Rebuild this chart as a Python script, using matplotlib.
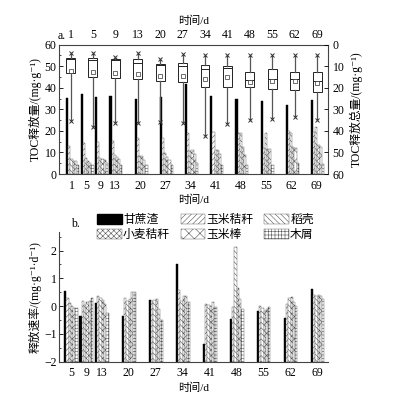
import numpy as np
import matplotlib

matplotlib.use("Agg")
import matplotlib.pyplot as plt
from matplotlib.patches import Patch
from matplotlib.ticker import MultipleLocator

plt.rcParams["font.family"] = ["Liberation Serif", "Noto Sans CJK SC", "DejaVu Serif"]
plt.rcParams["font.size"] = 8
plt.rcParams["hatch.linewidth"] = 0.4

# ---- data --------------------------------------------------------------
series = ["甘蔗渣", "玉米秸秆", "稻壳", "小麦秸秆", "玉米棒", "木屑"]
hatches = [None, "//////", "\\\\\\\\\\\\", "xxxxxx", "xxx", "+++++"]

# panel a: TOC release per sampling (mg/g)
days_a = [1, 5, 9, 13, 20, 27, 34, 41, 48, 55, 62, 69]
rel_bagasse = [35.2, 37.3, 35.8, 36.2, 34.8, 35.6, 41.8, 36.3, 34.6, 33.8, 32.0, 34.3]
rel_cornstalk = [13.2, 14.2, 15.0, 15.4, 16.5, 16.8, 19.1, 19.4, 18.9, 12.0, 20.0, 19.5]
rel_husk = [6.8, 7.4, 7.2, 9.0, 8.5, 9.9, 10.5, 11.2, 18.9, 18.9, 18.9, 21.8]
rel_wheat = [6.2, 6.0, 6.8, 8.0, 8.5, 8.0, 11.0, 11.0, 12.4, 11.6, 12.4, 13.4]
rel_cob = [6.0, 5.0, 6.5, 6.9, 6.5, 6.5, 9.5, 9.2, 8.8, 11.6, 12.0, 12.4]
rel_sawdust = [4.2, 4.2, 5.0, 4.2, 4.2, 4.2, 5.0, 4.2, 4.2, 4.2, 5.0, 4.5]
release = [rel_bagasse, rel_cornstalk, rel_husk, rel_wheat, rel_cob, rel_sawdust]

# panel a boxes: total TOC release (mg/g), right axis
box_lo = [4.0, 4.0, 5.5, 4.0, 6.7, 4.4, 4.7, 4.7, 4.7, 4.7, 4.7, 4.7]
box_q1 = [6.2, 6.2, 6.5, 6.5, 9.0, 8.5, 9.3, 10.1, 12.5, 11.4, 12.5, 12.8]
box_med = [6.6, 7.2, 7.0, 8.5, 9.5, 10.1, 11.2, 11.0, 16.4, 16.0, 15.7, 16.7]
box_q3 = [13.3, 14.8, 15.5, 15.9, 17.0, 17.5, 19.5, 19.8, 19.5, 20.6, 21.0, 22.1]
box_mean = [12.4, 12.6, 13.0, 13.6, 14.4, 14.4, 15.9, 15.1, 17.1, 16.7, 16.7, 17.9]
box_hi = [35.6, 38.0, 36.4, 36.4, 36.0, 36.4, 42.4, 36.9, 35.0, 34.3, 33.5, 35.0]

# panel b: release rate (mg/g/d)
days_b = [5, 9, 13, 20, 27, 34, 41, 48, 55, 62, 69]
rate_bagasse = [0.56, -0.36, 0.10, -0.35, 0.21, 1.50, -1.38, -0.45, -0.19, -0.43, 0.60]
rate_cornstalk = [0.30, 0.18, 0.37, 0.28, 0.18, 0.57, 0.08, -0.03, 0.02, 0.09, 0.40]
rate_husk = [0.12, 0.05, 0.28, 0.20, 0.22, 0.20, 0.05, 2.12, -0.06, 0.28, 0.37]
rate_wheat = [0.02, 0.14, 0.22, 0.25, 0.25, 0.38, 0.02, 0.64, -0.18, 0.32, 0.40]
rate_cob = [-0.05, 0.20, 0.07, 0.50, -0.10, 0.35, 0.15, 0.27, -0.10, 0.14, 0.38]
rate_sawdust = [-0.05, 0.30, -0.24, 0.50, -0.50, 0.15, -0.04, -0.09, -0.03, 0.00, 0.27]
rates = [rate_bagasse, rate_cornstalk, rate_husk, rate_wheat, rate_cob, rate_sawdust]

fig = plt.figure(figsize=(3.95, 3.96), dpi=100)


def rect(x0, y_top, x1, y_bot):
    # pixel box (from top-left) -> figure fraction
    return [x0 / 395, 1 - y_bot / 396, (x1 - x0) / 395, (y_bot - y_top) / 396]


bw = 0.6
tick_kw = dict(direction="in", length=3, width=0.6, pad=2)

# ---- panel a -----------------------------------------------------------
ax = fig.add_axes(rect(59.3, 44.7, 328.3, 174))
da = np.array(days_a, dtype=float)
for k, (vals, h) in enumerate(zip(release, hatches)):
    if h is None:
        ax.bar(da + k * bw, vals, width=bw, color="black", edgecolor="black",
               lw=0.3, zorder=2)
    else:
        ax.bar(da + k * bw, vals, width=bw, color="white", edgecolor="#555555",
               hatch=h, lw=0.3, zorder=2)
ax.set_xlim(-1.2, 73.5)
ax.set_ylim(0, 60)
ax.set_xticks(da + 1.3)
ax.set_xticklabels([str(d) for d in days_a])
ax.yaxis.set_major_locator(MultipleLocator(10))
ax.yaxis.set_minor_locator(MultipleLocator(5))
ax.tick_params(axis="both", which="major", **tick_kw)
ax.tick_params(axis="y", which="minor", direction="in", length=1.5, width=0.5)
ax.tick_params(axis="x", length=0, pad=4, labelsize=8.5)
ax.tick_params(axis="y", labelsize=8.5)
ax.set_ylabel("TOC释放量/(mg·g⁻¹)", fontsize=8.5, labelpad=2)
ax.set_xlabel("时间/d", fontsize=8, labelpad=2)
for s in ax.spines.values():
    s.set_linewidth(0.8)
    s.set_color("#444444")

# boxes on top/right axes
axb = fig.add_axes(rect(59.3, 44.7, 328.3, 174), frameon=False)
pos = np.arange(len(days_a))
stats = [dict(whislo=lo, q1=q1, med=md, q3=q3, whishi=hi, mean=mn)
         for lo, q1, md, q3, mn, hi in zip(box_lo, box_q1, box_med, box_q3,
                                            box_mean, box_hi)]
axb.bxp(stats, positions=pos, widths=0.4, showcaps=False, showfliers=False,
        showmeans=True, patch_artist=True,
        boxprops=dict(facecolor="white", edgecolor="#222222", lw=0.7),
        medianprops=dict(color="#222222", lw=0.7),
        whiskerprops=dict(color="#555555", lw=0.9),
        meanprops=dict(marker="s", markersize=2.5, markerfacecolor="white",
                       markeredgecolor="#333333", markeredgewidth=0.5))
axb.plot(pos, box_lo, ls="none", marker="x", ms=2.5, mew=0.7, color="#333333")
axb.plot(pos, box_hi, ls="none", marker="x", ms=2.5, mew=0.7, color="#333333")
axb.set_xlim(-0.5, 11.5)
axb.set_ylim(60, 0)
axb.xaxis.tick_top()
axb.xaxis.set_label_position("top")
axb.yaxis.tick_right()
axb.yaxis.set_label_position("right")
axb.set_xticks(pos)
axb.set_xticklabels([str(d) for d in days_a])
axb.yaxis.set_major_locator(MultipleLocator(10))
axb.tick_params(axis="y", which="major", direction="in", length=3, width=0.6,
                pad=3, labelsize=8.5)
axb.tick_params(axis="x", length=0, pad=3, labelsize=8.5)
axb.set_xlabel("时间/d", fontsize=8, labelpad=3)
axb.set_ylabel("TOC释放总量/(mg·g⁻¹)", fontsize=8.5, labelpad=4)
fig.text(58 / 395, 1 - 36 / 396, "a.", fontsize=8.5, ha="left", va="center")

# ---- panel b -----------------------------------------------------------
ax2 = fig.add_axes(rect(59.3, 231.7, 328.3, 361.7))
db = np.array(days_b, dtype=float)
base = -2.0
for k, (vals, h) in enumerate(zip(rates, hatches)):
    v = np.array(vals)
    if h is None:
        ax2.bar(db + k * bw, v - base, bottom=base, width=bw, color="black",
                edgecolor="black", lw=0.3)
    else:
        ax2.bar(db + k * bw, v - base, bottom=base, width=bw, color="white",
                edgecolor="#555555", hatch=h, lw=0.3)
ax2.set_xlim(3.5, 73.3)
ax2.set_ylim(-2, 2.68)
ax2.set_xticks(db + 1.5)
ax2.set_xticklabels([str(d) for d in days_b])
ax2.yaxis.set_major_locator(MultipleLocator(1))
ax2.yaxis.set_minor_locator(MultipleLocator(0.5))
ax2.tick_params(axis="y", which="major", **tick_kw, labelsize=8.5)
ax2.tick_params(axis="y", which="minor", direction="in", length=1.5, width=0.5)
ax2.tick_params(axis="x", length=0, pad=4, labelsize=8.5)
ax2.spines["top"].set_visible(False)
ax2.spines["right"].set_visible(False)
for s in ("left", "bottom"):
    ax2.spines[s].set_linewidth(0.8)
    ax2.spines[s].set_color("#444444")
ax2.set_ylabel("释放速率/(mg·g⁻¹·d⁻¹)", fontsize=8.5, labelpad=2)
ax2.set_xlabel("时间/d", fontsize=8, labelpad=2)
fig.text(75 / 395, 1 - 224 / 396, "b.", fontsize=8.5, ha="center", va="center")

handles = []
for name, h in zip(series, hatches):
    if h is None:
        handles.append(Patch(facecolor="black", edgecolor="black", label=name))
    else:
        handles.append(Patch(facecolor="white", edgecolor="#555555", hatch=h,
                             lw=0.3, label=name))
order = [0, 3, 1, 4, 2, 5]
fig.legend([handles[i] for i in order], [series[i] for i in order],
           ncol=3, loc="upper left", bbox_to_anchor=(97 / 395, 1 - 214 / 396),
           frameon=False, fontsize=8.5, handlelength=2.1, handleheight=0.9,
           handletextpad=0.1, columnspacing=0.9, labelspacing=0.25,
           borderaxespad=0, borderpad=0)

fig.savefig("out.png", dpi=100)
